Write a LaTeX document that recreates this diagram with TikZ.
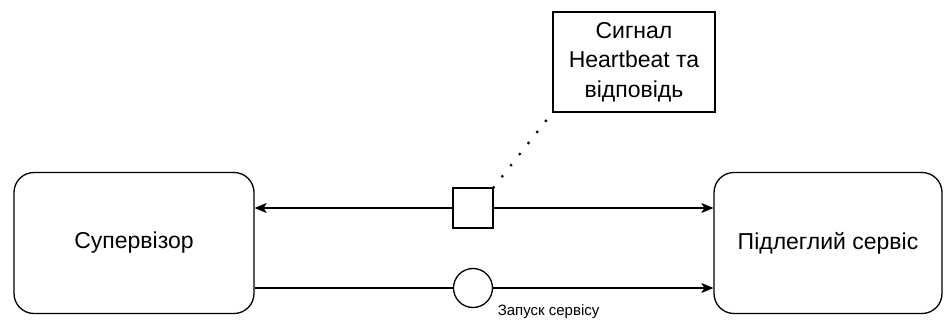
\documentclass[tikz,border=0pt]{standalone}
\usepackage{fontspec}
\setmainfont{Liberation Sans}
\usetikzlibrary{arrows.meta,positioning}

\begin{document}
\begin{tikzpicture}[x=1pt,y=-1pt,>={Stealth[length=12pt,width=10pt,inset=3pt]},
                    line width=1.3pt,
                    block/.style={draw,rounded corners=20pt,minimum width=240pt,
                                  minimum height=141pt,font=\fontsize{23}{28}\selectfont},
                    note/.style={draw,minimum width=162pt,minimum height=100pt,align=center,
                                 inner sep=0pt,font=\fontsize{23}{29.5}\selectfont},
                    msgbox/.style={draw,fill=white,minimum size=40pt,inner sep=0pt},
                    msgcirc/.style={draw,fill=white,circle,minimum size=39pt,inner sep=0pt}]
  \useasboundingbox (0,0) rectangle (944,323);

  \node[block] (sup) at (134,243)  {Супервізор};
  \node[block,minimum width=228pt] (svc) at (828,243) {Підлеглий сервіс};
  \node[note]  (note) at (634,62) {Сигнал\\Heartbeat та\\відповідь};

  \path ([yshift=35pt]sup.east) edge[<->] node[msgbox,pos=0.476] (hb) {} ([yshift=35pt]svc.west)
        ([yshift=-45pt]sup.east) edge[->] node[msgcirc,pos=0.476] (run) {} ([yshift=-45pt]svc.west);

  \draw[line width=3.2pt,line cap=round,dash pattern=on 0pt off 14.1pt] (hb.north east) -- (note.south west);

  \node[anchor=west,inner sep=2pt,font=\fontsize{15}{18}\selectfont] (runlbl)
       at ([xshift=2pt,yshift=-24pt]run.east) {Запуск сервісу};
\end{tikzpicture}
\end{document}
